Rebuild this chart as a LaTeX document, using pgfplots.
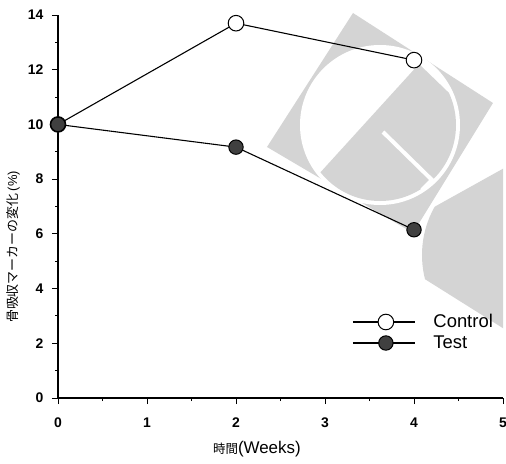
\documentclass[border=0pt]{standalone}
\usepackage{fontspec}
\setmainfont{Liberation Sans}
\newfontfamily\cjk{Noto Sans CJK JP}
\usepackage{pgfplots}
\pgfplotsset{compat=1.18}
\colorlet{wm}{black!17}
\newcommand\PX[2]{(axis cs:{(#1-58)/89},{(398-#2)/27.357})}
\begin{document}
\begin{tikzpicture}
\begin{axis}[
  scale only axis,
  width=445bp, height=383bp,
  xmin=0, xmax=5, ymin=0, ymax=14,
  axis lines=left,
  axis line style={-, line width=1.1pt},
  xtick={0,1,2,3,4,5}, ytick={0,2,4,6,8,10,12,14},
  minor x tick num=1, minor y tick num=1,
  tick align=outside,
  major tick length=6bp, minor tick length=3bp,
  tick style={line width=0.9pt, black},
  /pgf/number format/assume math mode=true,
  ticklabel style={font=\fontsize{14}{16}\selectfont\bfseries},
  yticklabel style={xshift=-5bp},
  xticklabel style={yshift=-10bp},
  xlabel={{\cjk\fontsize{12.5}{15}\selectfont 時間}(Weeks)},
  xlabel style={font=\fontsize{17}{19}\selectfont, at={(axis description cs:0.447,0)}, anchor=center, yshift=-51bp},
  legend style={draw=none, fill=none, at={(axis description cs:0.661,0.171)}, anchor=west,
    font=\fontsize{18.5}{20}\selectfont, inner sep=0pt,
    nodes={inner sep=0pt, text height=13.5bp, text depth=3bp}, row sep=4.5bp, column sep=18bp},
  legend cell align=left,
  legend image code/.code={\draw[#1, mark repeat=2, mark phase=2] plot coordinates {(0bp,0bp) (33bp,0bp) (62bp,0bp)};},
  clip=false,
]
\coordinate (BL) at (rel axis cs:0,0);
\coordinate (TR) at (rel axis cs:1,1);
\begin{scope}
\clip (rel axis cs:0,0) rectangle (rel axis cs:1,1.01);
\fill[wm] \PX{353}{13} -- \PX{493}{103} -- \PX{413}{233} -- \PX{267}{147} -- cycle;
\fill[white] \PX{380}{125} circle[radius=80bp];
\begin{scope}
\clip \PX{380}{125} circle[radius=76bp];
\fill[wm] \PX{318}{175} -- \PX{419}{64} -- \PX{560}{200} -- \PX{450}{320} -- cycle;
\end{scope}
\draw[white, line width=4bp] \PX{383}{132} -- \PX{432}{180} -- \PX{422}{190};
\begin{scope}
\clip \PX{400}{226} -- \PX{560}{137} -- \PX{560}{364} -- \PX{400}{263.5} -- cycle;
\fill[wm] \PX{520}{255} circle[radius=98bp];
\end{scope}
\end{scope}
\addplot[black, line width=1.1pt, mark=*, mark size=7.8bp, mark options={fill=white, line width=1pt}]
  coordinates {(0,10) (2,13.7) (4,12.35)};
\addlegendentry{Control}
\addplot[black, line width=1.1pt, mark=*, mark size=7.2bp, mark options={fill=black!75, line width=1pt}]
  coordinates {(0,10) (2,9.17) (4,6.15)};
\addlegendentry{Test}
\end{axis}
\node[rotate=90, anchor=center, inner sep=0pt, font=\fontsize{13}{15}\selectfont]
  at ([xshift=-45bp, yshift=151bp]BL) {{\cjk 骨吸収マーカーの変化}\,(\%)};
\path (BL) ++(-58bp,-65bp) coordinate (A);
\path (TR) ++(3bp,15bp) coordinate (B);
\pgfresetboundingbox
\path (A) rectangle (B);
\end{tikzpicture}
\end{document}
